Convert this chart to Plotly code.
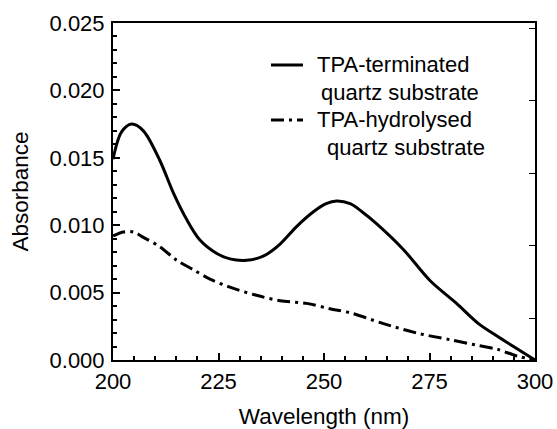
import plotly.graph_objects as go

# TPA-terminated quartz substrate (solid)
wl_term = [200.0, 202.0, 204.4, 207.2, 211.1, 214.3, 217.5, 220.6,
           224.6, 227.7, 231.7, 235.6, 239.6, 243.5, 247.5, 250.5, 253.0, 256.2,
           259.0, 262.5, 268.8, 275.1, 281.4, 286.6, 290.9, 294.9, 300.0]
abs_term = [0.0149, 0.0169, 0.0175, 0.0170, 0.0148, 0.0124, 0.0104, 0.0089,
            0.0079, 0.0075, 0.0074, 0.0077, 0.0086, 0.0099, 0.0110, 0.0116, 0.0118, 0.0116,
            0.0110, 0.0101, 0.0082, 0.0059, 0.0042, 0.0027, 0.0018, 0.0010, 0.0000]

# TPA-hydrolysed quartz substrate (dash-dot)
wl_hyd = [200.0, 202.4, 204.8, 207.2, 211.1, 215.1, 219.0, 223.0, 227.7, 234.0,
          239.6, 245.9, 251.4, 256.2, 264.1, 272.0, 279.9, 286.2, 291.0, 295.7, 300.0]
abs_hyd = [0.0092, 0.0095, 0.0095, 0.0091, 0.0084, 0.0074, 0.0067, 0.0060, 0.0054, 0.0048,
           0.0044, 0.0042, 0.0038, 0.0035, 0.0027, 0.0020, 0.0015, 0.0011, 0.0008, 0.0003, 0.0000]

legend_lines = [["TPA-terminated", "quartz substrate"],
                ["TPA-hydrolysed", " quartz substrate"]]

FONT = "Liberation Sans, Arial, sans-serif"
DASHDOT = "13px,5px,3px,5px"

fig = go.Figure()
fig.add_trace(go.Scatter(
    x=wl_term, y=abs_term, mode="lines", name="TPA-terminated quartz substrate",
    line=dict(color="black", width=3, shape="spline", smoothing=0.9),
))
fig.add_trace(go.Scatter(
    x=wl_hyd, y=abs_hyd, mode="lines", name="TPA-hydrolysed quartz substrate",
    line=dict(color="black", width=3, dash=DASHDOT, shape="spline", smoothing=0.9),
))
# helper trace to host right-hand axis ticks
fig.add_trace(go.Scatter(x=[None], y=[None], yaxis="y2", showlegend=False, hoverinfo="skip"))

# legend drawn as samples + text (matches the two-line entries of the original)
leg_sample_x = (0.3744, 0.4502)
leg_rows_y = [(0.8754, 0.7923), (0.7122, 0.6291)]
leg_text_x = [(0.4787, 0.4880), (0.4787, 0.4880)]
shapes = []
annotations = []
for i, (lines, (y1, y2), (tx1, tx2)) in enumerate(zip(legend_lines, leg_rows_y, leg_text_x)):
    shapes.append(dict(type="line", xref="paper", yref="paper",
                       x0=leg_sample_x[0], x1=leg_sample_x[1], y0=y1, y1=y1,
                       line=dict(color="black", width=3, dash="solid" if i == 0 else DASHDOT)))
    annotations.append(dict(xref="paper", yref="paper", x=tx1, y=y1, text=lines[0],
                            showarrow=False, xanchor="left", yanchor="middle",
                            font=dict(family=FONT, size=22, color="black")))
    second = lines[1].replace(" ", "&nbsp;", 1) if lines[1].startswith(" ") else lines[1]
    annotations.append(dict(xref="paper", yref="paper", x=tx2, y=y2, text=second,
                            showarrow=False, xanchor="left", yanchor="middle",
                            font=dict(family=FONT, size=22, color="black")))

fig.update_layout(
    width=557, height=429,
    margin=dict(l=113, r=22, t=23, b=69),
    paper_bgcolor="white", plot_bgcolor="white",
    font=dict(family=FONT, size=22, color="black"),
    showlegend=False,
    shapes=shapes, annotations=annotations,
    xaxis=dict(
        range=[200, 300], tick0=200, dtick=25, automargin=False,
        ticks="inside", ticklen=7, tickwidth=1.5, tickcolor="black",
        minor=dict(dtick=5, ticks="inside", ticklen=4, tickwidth=1.5, tickcolor="black", showgrid=False),
        showline=True, linewidth=2, linecolor="black", mirror=True,
        showgrid=False, zeroline=False, ticklabelstandoff=1,
        title=dict(text="Wavelength (nm)", font=dict(family=FONT, size=22.5), standoff=19),
        tickfont=dict(family=FONT, size=22),
    ),
    yaxis=dict(
        range=[0, 0.025], tick0=0, dtick=0.005, tickformat=".3f", automargin=False,
        ticks="inside", ticklen=7, tickwidth=1.5, tickcolor="black",
        minor=dict(dtick=0.001, ticks="inside", ticklen=4, tickwidth=1.5, tickcolor="black", showgrid=False),
        showline=True, linewidth=2, linecolor="black", mirror=True,
        showgrid=False, zeroline=False, ticklabelstandoff=2,
        title=dict(text="Absorbance", font=dict(family=FONT, size=22.5), standoff=15),
        tickfont=dict(family=FONT, size=22),
    ),
    yaxis2=dict(
        overlaying="y", side="right", range=[-0.579, 4.073], dtick=1,
        ticks="inside", ticklen=6, tickwidth=1.2, tickcolor="black",
        showticklabels=False, showline=False, showgrid=False, zeroline=False,
    ),
)

fig.write_html("out.html", config={"displayModeBar": False},
               post_script="document.body.style.margin='0';")
